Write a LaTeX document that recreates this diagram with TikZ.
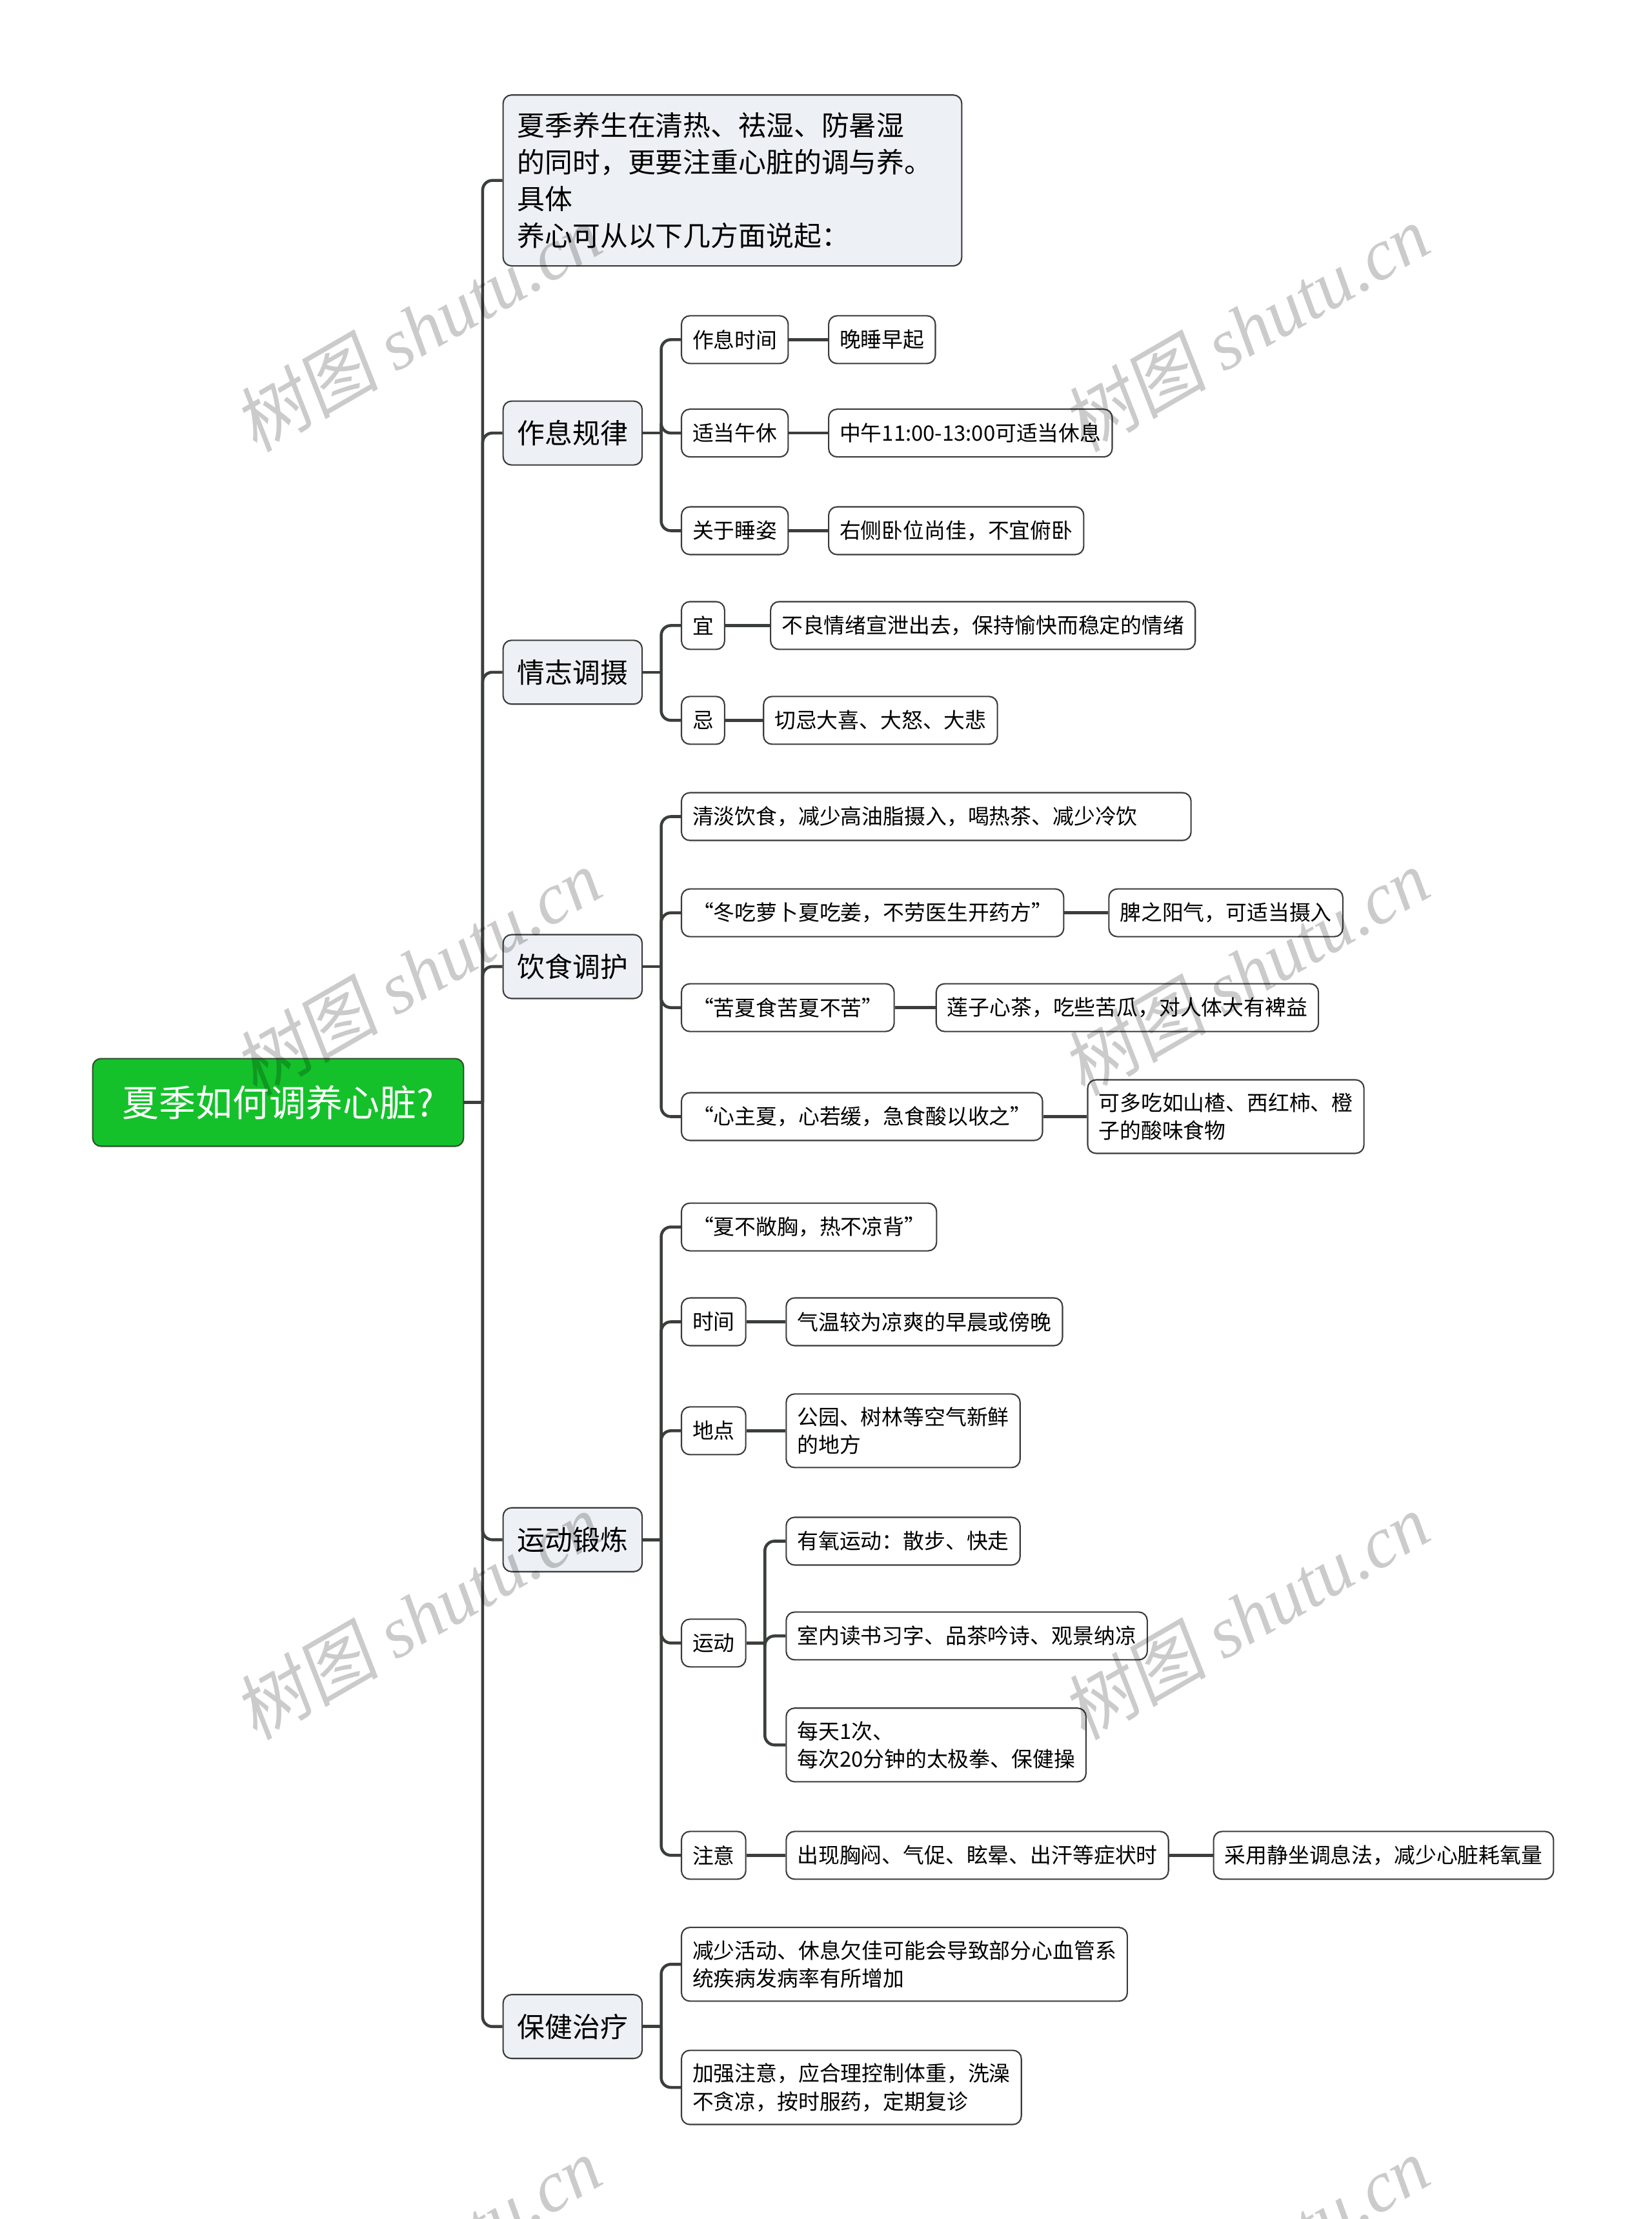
\documentclass[tikz,border=0pt]{standalone}
\usepackage{fontspec}
\setmainfont{Noto Sans CJK SC}
\newfontfamily\wmcjk[FakeSlant=0.15]{Noto Sans CJK SC}
\newfontfamily\wmlat{Liberation Serif}

\definecolor{linegray}{HTML}{3B3F3B}
\definecolor{boxline}{HTML}{3A3A3A}
\definecolor{boxgray}{HTML}{EDF0F4}
\definecolor{rootgreen}{HTML}{14C12A}
\definecolor{rootline}{HTML}{2F4F2F}
\definecolor{wmgray}{HTML}{CBCBCB}

% link from a parent to a child, rounded where it turns
\newcommand\linkto[2]{%
        \draw[conn] (#1.east) -- ++(13,0) coordinate (j);
        \draw[conn, rounded corners=0.15cm] (j) |- (#2.west);
}
% straight link between two boxes on one line
\newcommand\chain[2]{\draw[conn] (#1.east) -- (#2.west);}

\begin{document}
\begin{tikzpicture}[x=0.021937cm, y=-0.021937cm,
        conn/.style={draw=linegray, line width=1.3pt},
        leaf/.style={draw=boxline, line width=0.6pt, fill=white, rounded corners=0.13cm, anchor=west, align=left, inner xsep=0.17cm, inner ysep=0.2cm, minimum height=0.74cm, font=\fontsize{9.35}{12.4}\selectfont},
        mainbox/.style={leaf, fill=boxgray, inner xsep=0.22cm, minimum height=0.99cm, font=\fontsize{12.2}{16.2}\selectfont},
        rootbox/.style={leaf, draw=rootline, fill=rootgreen, text=white, minimum width=5.75cm, minimum height=1.36cm, align=center, font=\fontsize{16.2}{20}\selectfont},
        wm/.style={rotate=30, text=wmgray, font=\fontsize{32}{32}\selectfont}]
        \useasboundingbox (0,0) rectangle (1167,1568);

        % Root and main topics
        \node[rootbox] (root) at (65,779) {夏季如何调养心脏?};
        \node[mainbox, text width=6.67cm, inner ysep=0.27cm] (intro) at (355,127.5) {夏季养生在清热、祛湿、防暑湿\\的同时，更要注重心脏的调与养。\\具体\\养心可从以下几方面说起：};
        \node[mainbox] (rest) at (355,306) {作息规律};
        \node[mainbox] (mood) at (355,475) {情志调摄};
        \node[mainbox] (diet) at (355,683) {饮食调护};
        \node[mainbox] (sport) at (355,1088) {运动锻炼};
        \node[mainbox] (care) at (355,1432) {保健治疗};

        % 作息规律
        \node[leaf] (restTime) at (481,240) {作息时间};
        \node[leaf] (restTimeV) at (585,240) {晚睡早起};
        \node[leaf] (nap) at (481,306) {适当午休};
        \node[leaf] (napV) at (585,306) {中午11:00-13:00可适当休息};
        \node[leaf] (sleep) at (481,375) {关于睡姿};
        \node[leaf] (sleepV) at (585,375) {右侧卧位尚佳，不宜俯卧};

        % 情志调摄
        \node[leaf] (moodYes) at (481,442) {宜};
        \node[leaf] (moodYesV) at (544,442) {不良情绪宣泄出去，保持愉快而稳定的情绪};
        \node[leaf] (moodNo) at (481,509) {忌};
        \node[leaf] (moodNoV) at (539,509) {切忌大喜、大怒、大悲};

        % 饮食调护
        \node[leaf, text width=7.56cm] (dietA) at (481,577) {清淡饮食，减少高油脂摄入，喝热茶、减少冷饮};
        \node[leaf] (dietB) at (481,645) {“冬吃萝卜夏吃姜，不劳医生开药方”};
        \node[leaf] (dietBV) at (783,645) {脾之阳气，可适当摄入};
        \node[leaf] (dietC) at (481,712) {“苦夏食苦夏不苦”};
        \node[leaf] (dietCV) at (661,712) {莲子心茶，吃些苦瓜，对人体大有裨益};
        \node[leaf] (dietD) at (481,789) {“心主夏，心若缓，急食酸以收之”};
        \node[leaf] (dietDV) at (768,789) {可多吃如山楂、西红柿、橙\\子的酸味食物};

        % 运动锻炼
        \node[leaf] (sportA) at (481,867) {“夏不敞胸，热不凉背”};
        \node[leaf] (when) at (481,934) {时间};
        \node[leaf] (whenV) at (555,934) {气温较为凉爽的早晨或傍晚};
        \node[leaf] (where) at (481,1011) {地点};
        \node[leaf] (whereV) at (555,1011) {公园、树林等空气新鲜\\的地方};
        \node[leaf] (move) at (481,1161) {运动};
        \node[leaf] (moveA) at (555,1089) {有氧运动：散步、快走};
        \node[leaf] (moveB) at (555,1156) {室内读书习字、品茶吟诗、观景纳凉};
        \node[leaf] (moveC) at (555,1233) {每天1次、\\每次20分钟的太极拳、保健操};
        \node[leaf] (note) at (481,1311) {注意};
        \node[leaf] (noteV) at (555,1311) {出现胸闷、气促、眩晕、出汗等症状时};
        \node[leaf] (noteW) at (857,1311) {采用静坐调息法，减少心脏耗氧量};

        % 保健治疗
        \node[leaf] (careA) at (481,1388) {减少活动、休息欠佳可能会导致部分心血管系\\统疾病发病率有所增加};
        \node[leaf] (careB) at (481,1475) {加强注意，应合理控制体重，洗澡\\不贪凉，按时服药，定期复诊};

        % Links
        \foreach \c in {intro, rest, mood, diet, sport, care} {\linkto{root}{\c}}
        \foreach \c in {restTime, nap, sleep} {\linkto{rest}{\c}}
        \chain{restTime}{restTimeV}
        \chain{nap}{napV}
        \chain{sleep}{sleepV}
        \foreach \c in {moodYes, moodNo} {\linkto{mood}{\c}}
        \chain{moodYes}{moodYesV}
        \chain{moodNo}{moodNoV}
        \foreach \c in {dietA, dietB, dietC, dietD} {\linkto{diet}{\c}}
        \chain{dietB}{dietBV}
        \chain{dietC}{dietCV}
        \chain{dietD}{dietDV}
        \foreach \c in {sportA, when, where, move, note} {\linkto{sport}{\c}}
        \chain{when}{whenV}
        \chain{where}{whereV}
        \foreach \c in {moveA, moveB, moveC} {\linkto{move}{\c}}
        \chain{note}{noteV}
        \chain{noteV}{noteW}
        \foreach \c in {careA, careB} {\linkto{care}{\c}}

        % Watermarks
        \begin{scope}[blend mode=multiply]
        \foreach \wx in {295, 880}
                \foreach \wy in {232, 687, 1142, 1597}
                        \node[wm] at (\wx,\wy) {{\wmcjk 树图} {\wmlat\itshape shutu.cn}};
        \end{scope}
\end{tikzpicture}
\end{document}
